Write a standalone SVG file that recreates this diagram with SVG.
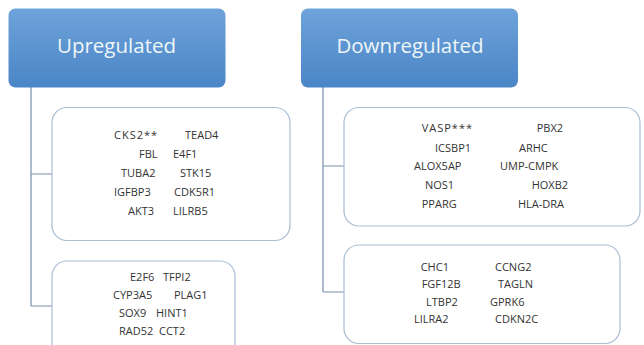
<svg xmlns="http://www.w3.org/2000/svg" width="644" height="345" viewBox="0 0 644 345">
<style>
.hdr{fill:url(#g)}
.htxt{font-family:"Open Sans","Liberation Sans",sans-serif;font-size:20.5px;fill:#eef6f8}
.box{fill:#ffffff;stroke:#a9bdd4;stroke-width:1.2}
.t{font-family:"Open Sans","Liberation Sans",sans-serif;font-size:11px;fill:#333333}
.con{fill:none;stroke:#7890ab;stroke-width:1.2}
</style>
<defs>
<linearGradient id="g" x1="0" y1="0" x2="0" y2="1">
<stop offset="0" stop-color="#6ea3da"/>
<stop offset="1" stop-color="#4a85c6"/>
</linearGradient>
</defs>
<rect width="644" height="345" fill="#ffffff"/>
<g id="connectors">
<path class="con" d="M31,87 V306 M31,174 H52 M31,306 H52"/>
<path class="con" d="M323,87 V292 M323,166 H344 M323,292 H344"/>
</g>
<g id="upregulated">
<rect class="hdr" x="8.5" y="8.5" width="217" height="79" rx="7"/>
<text class="htxt" x="116.5" y="53" text-anchor="middle">Upregulated</text>
</g>
<g id="downregulated">
<rect class="hdr" x="301" y="8.5" width="217" height="79" rx="7"/>
<text class="htxt" x="410" y="53" text-anchor="middle">Downregulated</text>
</g>
<g id="up-group1">
<rect class="box" x="52" y="107.5" width="238" height="133" rx="15"/>
<text class="t" x="114" y="139.3" letter-spacing="1">CKS2**</text>
<text class="t" x="185" y="139.3">TEAD4</text>
<text class="t" x="139" y="158">FBL</text>
<text class="t" x="173" y="158">E4F1</text>
<text class="t" x="121" y="177">TUBA2</text>
<text class="t" x="180" y="177">STK15</text>
<text class="t" x="114" y="196">IGFBP3</text>
<text class="t" x="174" y="196">CDK5R1</text>
<text class="t" x="128" y="214.7">AKT3</text>
<text class="t" x="173" y="214.7">LILRB5</text>
</g>
<g id="up-group2">
<rect class="box" x="52" y="261" width="183" height="100" rx="15"/>
<text class="t" x="130" y="281">E2F6</text>
<text class="t" x="163" y="281">TFPI2</text>
<text class="t" x="113" y="299">CYP3A5</text>
<text class="t" x="174" y="299">PLAG1</text>
<text class="t" x="119" y="317">SOX9</text>
<text class="t" x="156" y="317">HINT1</text>
<text class="t" x="119" y="334.7">RAD52</text>
<text class="t" x="159" y="334.7">CCT2</text>
</g>
<g id="down-group1">
<rect class="box" x="344" y="107.5" width="296" height="118.5" rx="15"/>
<text class="t" x="421.7" y="132.3" letter-spacing="1">VASP***</text>
<text class="t" x="536.7" y="132.3">PBX2</text>
<text class="t" x="435" y="151.7">ICSBP1</text>
<text class="t" x="519" y="151.7">ARHC</text>
<text class="t" x="414" y="170">ALOX5AP</text>
<text class="t" x="500" y="170">UMP-CMPK</text>
<text class="t" x="425" y="189">NOS1</text>
<text class="t" x="531.7" y="189">HOXB2</text>
<text class="t" x="421.7" y="207.7">PPARG</text>
<text class="t" x="518" y="207.7">HLA-DRA</text>
</g>
<g id="down-group2">
<rect class="box" x="344" y="245" width="276" height="98.5" rx="15"/>
<text class="t" x="420.7" y="271">CHC1</text>
<text class="t" x="495" y="271">CCNG2</text>
<text class="t" x="421.7" y="288.3">FGF12B</text>
<text class="t" x="498" y="288.3">TAGLN</text>
<text class="t" x="426" y="305.7">LTBP2</text>
<text class="t" x="490" y="305.7">GPRK6</text>
<text class="t" x="414" y="323.3">LILRA2</text>
<text class="t" x="495" y="323.3">CDKN2C</text>
</g>
</svg>
